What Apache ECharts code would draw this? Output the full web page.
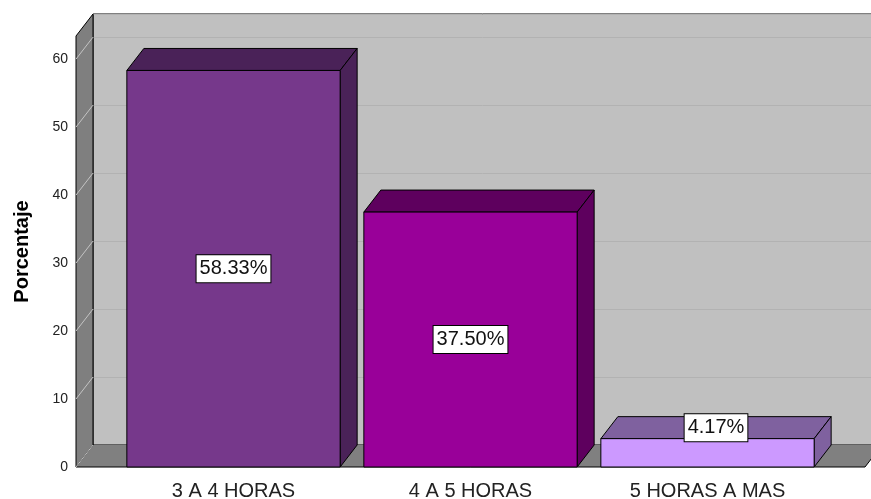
<!DOCTYPE HTML>
<html lang="es">
<head>
<meta charset="utf-8">
<title>Porcentaje</title>
<style>
html,body{margin:0;padding:0;width:100%;height:100%;background:#fff;}
#container{width:871px;height:499px;}
</style>
</head>
<body>
<div id="container"></div>
<script src="https://cdn.jsdelivr.net/npm/echarts@6/dist/echarts.min.js"></script>
<script>
// datos
var categorias = ['3 A 4 HORAS', '4 A 5 HORAS', '5 HORAS A MAS'];
var porcentajes = [58.33, 37.50, 4.17];
var ticksY = [0, 10, 20, 30, 40, 50, 60];

var yMax = 63.4;
var depthX = 17, depthY = 22;   // desplazamiento 3D
var frente = ['#76388b', '#990099', '#cc99ff'];
var oscuro = ['#4a2258', '#5e005e', '#7f619f'];
var fuente = '"Liberation Sans", Arial, sans-serif';

var dom = document.getElementById('container');
var myChart = echarts.init(dom);

function shift(p) { return [p[0] + depthX, p[1] - depthY]; }

// paredes y piso
function renderParedes(params, api) {
    var bl = api.coord([0, 0]), br = api.coord([1, 0]), tl = api.coord([0, yMax]);
    var fbl = [bl[0] - depthX, bl[1] + depthY], fbr = [br[0] - depthX, br[1] + depthY];
    var ftl = [tl[0] - depthX, tl[1] + depthY];
    var children = [
        {type: 'polygon', shape: {points: [bl, br, fbr, fbl]},
         style: {fill: '#808080', stroke: null}},
        {type: 'polyline', shape: {points: [fbl, fbr, br]},
         style: {stroke: '#000', lineWidth: 1, fill: null}},
        {type: 'polygon', shape: {points: [tl, bl, fbl, ftl]},
         style: {fill: '#7f7f7f', stroke: '#000', lineWidth: 1}}
    ];
    ticksY.forEach(function (t) {
        var p = api.coord([0, t]);
        children.push({type: 'line',
            shape: {x1: p[0], y1: p[1], x2: p[0] - depthX, y2: p[1] + depthY},
            style: {stroke: '#c4c4c4', lineWidth: 1}});
    });
    return {type: 'group', children: children};
}

// barras 3D
function renderBarra(params, api) {
    var i = api.value(0), v = api.value(1);
    var top = api.coord([i, v]), base = api.coord([i, 0]);
    var w = api.size([1, 0])[0] * 0.9;
    var x0 = top[0] - w / 2, x1 = top[0] + w / 2;
    var a = [x0, top[1]], b = [x1, top[1]], c = [x1, base[1]];
    var lineStyle = {stroke: '#000', lineWidth: 1};
    var h = base[1] - top[1];
    var lx, ly;
    if (h > 40) { lx = top[0]; ly = top[1] + h / 2; }
    else { lx = top[0] + depthX / 2; ly = top[1] - depthY / 2; }
    return {type: 'group', children: [
        {type: 'polygon', shape: {points: [a, b, shift(b), shift(a)]},
         style: Object.assign({fill: oscuro[i]}, lineStyle)},
        {type: 'polygon', shape: {points: [b, c, shift(c), shift(b)]},
         style: Object.assign({fill: oscuro[i]}, lineStyle)},
        {type: 'rect', shape: {x: x0, y: top[1], width: w, height: h},
         style: Object.assign({fill: frente[i]}, lineStyle)},
        {type: 'text', x: lx, y: ly, z2: 10,
         style: {text: porcentajes[i].toFixed(2) + '%', font: '20px ' + fuente,
                 fill: '#111', align: 'center', verticalAlign: 'middle',
                 backgroundColor: '#fff', borderColor: '#000', borderWidth: 1,
                 padding: [4, 3, 3, 3]}}
    ]};
}

var option = {
    animation: false,
    grid: [
        {left: 115, right: 45, top: 36, bottom: 32, outerBoundsMode: 'none'},
        {left: 93, width: 789, top: 14, height: 431, outerBoundsMode: 'none',
         show: true, backgroundColor: '#c0c0c0', borderColor: '#000', borderWidth: 1}
    ],
    xAxis: [
        {type: 'category', gridIndex: 0, data: categorias,
         axisLine: {show: false}, axisTick: {show: false},
         axisLabel: {margin: 14, fontSize: 20, color: '#222', fontFamily: fuente}},
        {type: 'value', gridIndex: 1, min: 0, max: 1, show: false}
    ],
    yAxis: [
        {type: 'value', gridIndex: 0, min: 0, max: yMax, interval: 10,
         axisLine: {show: false}, axisTick: {show: false}, splitLine: {show: false},
         axisLabel: {margin: 47, fontSize: 14, color: '#222', fontFamily: fuente,
                     formatter: function (v) { return ticksY.indexOf(v) >= 0 ? v : ''; }},
         name: 'Porcentaje', nameLocation: 'middle', nameGap: 83, nameRotate: 90,
         nameTextStyle: {fontSize: 20, fontWeight: 'bold', color: '#000', fontFamily: fuente}},
        {type: 'value', gridIndex: 1, min: 0, max: yMax, interval: 10,
         axisLine: {show: false}, axisTick: {show: false}, axisLabel: {show: false},
         splitLine: {show: true, lineStyle: {color: '#b2b2b2', width: 1}}}
    ],
    series: [
        {type: 'custom', xAxisIndex: 1, yAxisIndex: 1, z: 1, silent: true,
         renderItem: renderParedes, data: [[0]]},
        {type: 'custom', xAxisIndex: 0, yAxisIndex: 0, z: 3,
         renderItem: renderBarra,
         data: porcentajes.map(function (v, i) { return [i, v]; })}
    ]
};
myChart.setOption(option, true);
</script>
</body>
</html>
